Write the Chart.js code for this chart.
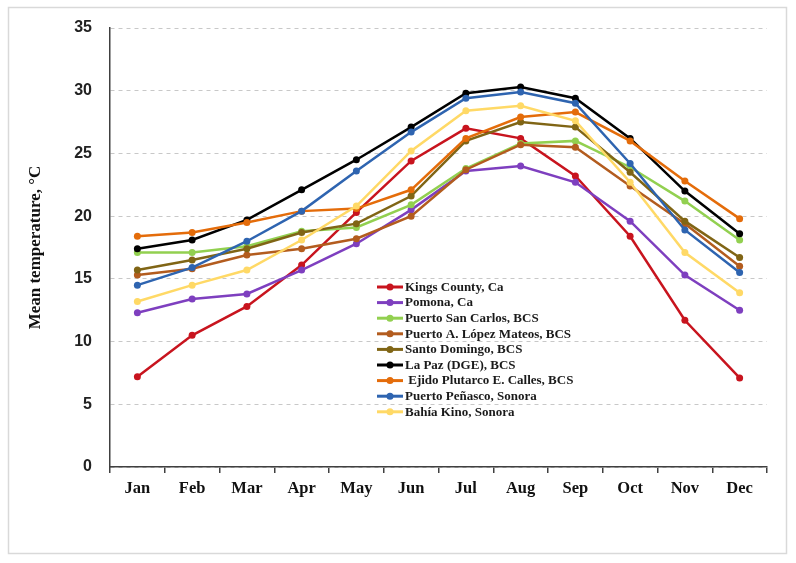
<!DOCTYPE html>
<html>
<head>
<meta charset="utf-8">
<script src="https://cdn.jsdelivr.net/npm/chart.js@4.4.1/dist/chart.umd.min.js"></script>
<style>
  html, body { margin: 0; padding: 0; background: #fff; }
  canvas { display: block; }
</style>
</head>
<body>
<canvas id="tempChart" width="796" height="563"></canvas>
<script>
// months and monthly mean temperature (°C) per station
var months = ["Jan", "Feb", "Mar", "Apr", "May", "Jun", "Jul", "Aug", "Sep", "Oct", "Nov", "Dec"];

var kingsCounty   = [7.2, 10.5, 12.8, 16.1, 20.3, 24.4, 27.0, 26.2, 23.2, 18.4, 11.7, 7.1];
var pomona        = [12.3, 13.4, 13.8, 15.7, 17.8, 20.5, 23.6, 24.0, 22.7, 19.6, 15.3, 12.5];
var sanCarlos     = [17.1, 17.1, 17.6, 18.8, 19.1, 20.9, 23.8, 25.8, 26.0, 23.9, 21.2, 18.1];
var lopezMateos   = [15.3, 15.8, 16.9, 17.4, 18.2, 20.0, 23.7, 25.7, 25.5, 22.4, 19.4, 16.0];
var santoDomingo  = [15.7, 16.5, 17.4, 18.7, 19.4, 21.6, 26.0, 27.5, 27.1, 23.5, 19.6, 16.7];
var laPaz         = [17.4, 18.1, 19.7, 22.1, 24.5, 27.1, 29.8, 30.3, 29.4, 26.2, 22.0, 18.6];
var ejidoCalles   = [18.4, 18.7, 19.5, 20.4, 20.6, 22.1, 26.2, 27.9, 28.3, 26.0, 22.8, 19.8];
var puertoPenasco = [14.5, 15.9, 18.0, 20.4, 23.6, 26.7, 29.4, 29.9, 29.0, 24.2, 18.9, 15.5];
var bahiaKino     = [13.2, 14.5, 15.7, 18.1, 20.8, 25.2, 28.4, 28.8, 27.6, 22.7, 17.1, 13.9];

var yTicks = [0, 5, 10, 15, 20, 25, 30, 35];

var stations = [
  ["Kings County, Ca", kingsCounty, "#c8141e"],
  ["Pomona, Ca", pomona, "#7e3fbf"],
  ["Puerto San Carlos, BCS", sanCarlos, "#92d050"],
  ["Puerto A. López Mateos, BCS", lopezMateos, "#b35c1e"],
  ["Santo Domingo, BCS", santoDomingo, "#806515"],
  ["La Paz (DGE), BCS", laPaz, "#000000"],
  [" Ejido Plutarco E. Calles, BCS", ejidoCalles, "#e46c0a"],
  ["Puerto Peñasco, Sonora", puertoPenasco, "#2e64b0"],
  ["Bahía Kino, Sonora", bahiaKino, "#ffd966"]
];

var datasets = stations.map(function (s, i) {
  return {
    label: s[0],
    data: s[1],
    borderColor: s[2],
    backgroundColor: s[2],
    borderWidth: 2.5,
    pointRadius: 3.5,
    pointBorderWidth: 0,
    pointBackgroundColor: s[2],
    tension: 0,
    order: -i   // later series drawn on top, like the spreadsheet
  };
});

// white background + light frame around the figure
var framePlugin = {
  id: 'frame',
  beforeDraw: function (chart) {
    var ctx = chart.ctx;
    ctx.save();
    ctx.fillStyle = '#fff';
    ctx.fillRect(0, 0, chart.width, chart.height);
    ctx.strokeStyle = '#d9d9d9';
    ctx.lineWidth = 1.5;
    ctx.strokeRect(8.5, 7.5, 778, 546);
    ctx.restore();
  }
};

// legend drawn inside the plot area
var insideLegend = {
  id: 'insideLegend',
  afterDraw: function (chart) {
    var ctx = chart.ctx;
    var area = chart.chartArea;
    var x0 = area.left + 267;
    var y0 = area.top + 259;
    ctx.save();
    ctx.font = 'bold 13px "Liberation Serif", serif';
    ctx.textBaseline = 'middle';
    chart.data.datasets.forEach(function (ds, i) {
      var y = y0 + i * 15.6;
      ctx.strokeStyle = ds.borderColor;
      ctx.lineWidth = 3;
      ctx.beginPath();
      ctx.moveTo(x0, y);
      ctx.lineTo(x0 + 26, y);
      ctx.stroke();
      ctx.fillStyle = ds.borderColor;
      ctx.beginPath();
      ctx.arc(x0 + 13, y, 3.5, 0, Math.PI * 2);
      ctx.fill();
      ctx.fillStyle = '#1a1a1a';
      ctx.fillText(ds.label, x0 + 28, y + 0.5);
    });
    ctx.restore();
  }
};

var ctx = document.getElementById('tempChart').getContext('2d');
var tempChart = new Chart(ctx, {
  type: 'line',
  data: { labels: months, datasets: datasets },
  plugins: [framePlugin, insideLegend],
  options: {
    responsive: false,
    animation: false,
    devicePixelRatio: 1,
    layout: { padding: { left: 0, right: 29, top: 28, bottom: 0 } },
    plugins: {
      legend: { display: false },
      tooltip: { enabled: false }
    },
    scales: {
      x: {
        offset: true,
        afterFit: function (scale) { scale.height = 96; },
        grid: {
          offset: true,
          drawOnChartArea: false,
          drawTicks: true,
          tickLength: 6,
          color: '#404040',
          lineWidth: 1.5
        },
        border: { color: '#404040', width: 1.5 },
        ticks: {
          color: '#111',
          padding: 6,
          maxRotation: 0,
          font: { family: '"Liberation Serif", serif', size: 16.5, weight: 'bold' }
        }
      },
      y: {
        min: 0,
        max: 35,
        afterFit: function (scale) { scale.width = 110; },
        afterBuildTicks: function (scale) {
          scale.ticks = yTicks.map(function (v) { return { value: v }; });
        },
        grid: {
          drawTicks: false,
          color: '#c8c8c8',
          lineWidth: 1
        },
        border: { color: '#404040', width: 1.5, dash: [4, 4] },
        ticks: {
          color: '#222',
          padding: 18,
          font: { family: '"Liberation Sans", Arial, sans-serif', size: 16, weight: 'bold' }
        },
        title: {
          display: true,
          text: 'Mean temperature, °C',
          color: '#111',
          padding: { top: 25, bottom: 0 },
          font: { family: '"Liberation Serif", serif', size: 17, weight: 'bold' }
        }
      }
    }
  }
});
</script>
</body>
</html>
